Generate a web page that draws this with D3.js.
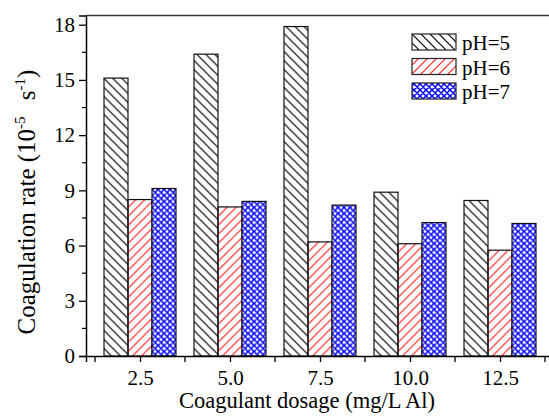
<!DOCTYPE html>
<html>
<head>
<meta charset="utf-8">
<script src="https://cdn.jsdelivr.net/npm/d3@7"></script>
<style>
  body { margin: 0; background: #fff; }
  svg text { font-family: "Liberation Serif", "Times New Roman", serif; }
</style>
</head>
<body>
<svg id="drawing_region"></svg>
<script>
// data
const dosages = [2.5, 5.0, 7.5, 10.0, 12.5];
const ph5 = [15.1, 16.4, 17.9, 8.9, 8.45];
const ph6 = [8.5, 8.1, 6.2, 6.1, 5.75];
const ph7 = [9.1, 8.4, 8.2, 7.25, 7.2];
const seriesNames = ['pH=5', 'pH=6', 'pH=7'];
const yTicks = [0, 3, 6, 9, 12, 15, 18];
const xTicks = [2.5, 5.0, 7.5, 10.0, 12.5];

const config = {
    width: 549,
    height: 417,
    margin: {top: 15.5, right: -5, bottom: 61, left: 86}
};

const svg = d3.select('#drawing_region')
    .attr('width', config.width)
    .attr('height', config.height);

const inner_width = config.width - config.margin.left - config.margin.right;
const inner_height = config.height - config.margin.top - config.margin.bottom;

// hatch patterns
const defs = svg.append('defs');
const p5 = defs.append('pattern').attr('id', 'hatch5')
    .attr('patternUnits', 'userSpaceOnUse').attr('width', 9).attr('height', 9);
p5.append('path').attr('d', 'M0,0 L9,9 M-1,8 L1,10 M8,-1 L10,1')
    .attr('stroke', '#000').attr('stroke-width', 1.2);
const p6 = defs.append('pattern').attr('id', 'hatch6')
    .attr('patternUnits', 'userSpaceOnUse').attr('width', 9).attr('height', 9);
p6.append('path').attr('d', 'M0,9 L9,0 M-1,1 L1,-1 M8,10 L10,8')
    .attr('stroke', '#ff2020').attr('stroke-width', 1.2);
const p7 = defs.append('pattern').attr('id', 'hatch7')
    .attr('patternUnits', 'userSpaceOnUse').attr('width', 6).attr('height', 6);
p7.append('rect').attr('width', 6).attr('height', 6).attr('fill', '#fff');
p7.append('path').attr('d', 'M0,0 L6,6 M-1,5 L1,7 M5,-1 L7,1 M0,6 L6,0 M-1,1 L1,-1 M5,7 L7,5')
    .attr('stroke', '#0000ff').attr('stroke-width', 1.5);
const fills = ['url(#hatch5)', 'url(#hatch6)', 'url(#hatch7)'];

const chart = svg.append('g')
    .attr('transform', `translate(${config.margin.left}, ${config.margin.top})`);

const xscale = d3.scaleLinear()
    .domain([1, 14])
    .range([0, inner_width]);

const yscale = d3.scaleLinear()
    .domain([0, 18.5])
    .range([inner_height, 0]);

// bars
const series = [ph5, ph6, ph7];
const barW = 2 / 3;
series.forEach((vals, i) => {
    chart.selectAll('.bar' + i)
        .data(dosages.map((d, j) => ({x: d, y: vals[j]})))
        .enter()
        .append('rect')
        .attr('x', d => xscale(d.x - 1 + i * barW))
        .attr('y', d => yscale(d.y))
        .attr('width', xscale(barW) - xscale(0))
        .attr('height', d => yscale(0) - yscale(d.y))
        .attr('fill', fills[i])
        .attr('stroke', '#111')
        .attr('stroke-width', 1.2);
});

// y axis
const yaxis = d3.axisLeft(yscale)
    .tickValues(yTicks)
    .tickSize(7)
    .tickPadding(4);
const yaxis_group = chart.append('g').call(yaxis)
    .attr('font-family', null).attr('font-size', null);
yaxis_group.selectAll('text').attr('font-size', '21px').attr('fill', '#000');
yaxis_group.select('.domain').attr('stroke-width', 1.5);
yaxis_group.selectAll('.tick line').attr('stroke-width', 1.3);

// minor y ticks
chart.append('g').selectAll('line')
    .data(yTicks.slice(0, -1).map(t => t + 1.5))
    .enter().append('line')
    .attr('x1', 0).attr('x2', -4)
    .attr('y1', d => yscale(d)).attr('y2', d => yscale(d))
    .attr('stroke', '#000').attr('stroke-width', 1.2);

// x axis
const xaxis = d3.axisBottom(xscale)
    .tickValues(xTicks)
    .tickFormat(d3.format('.1f'))
    .tickSize(6)
    .tickPadding(8);
const xaxis_group = chart.append('g')
    .attr('transform', `translate(0, ${inner_height})`)
    .call(xaxis)
    .attr('font-family', null).attr('font-size', null);
xaxis_group.selectAll('text').attr('font-size', '21px').attr('fill', '#000');
xaxis_group.select('.domain').attr('stroke-width', 1.5);
xaxis_group.selectAll('.tick line').attr('stroke-width', 1.3);

// ticks between groups
chart.append('g').selectAll('line')
    .data(xTicks.concat([15]).map(t => t - 1.25))
    .enter().append('line')
    .attr('x1', d => xscale(d)).attr('x2', d => xscale(d))
    .attr('y1', inner_height).attr('y2', inner_height + 6)
    .attr('stroke', '#000').attr('stroke-width', 1.3);

// top frame
chart.append('line')
    .attr('x1', 0).attr('x2', inner_width)
    .attr('y1', 0).attr('y2', 0)
    .attr('stroke', '#333').attr('stroke-width', 1.5);

// axis titles
svg.append('text')
    .attr('x', 307)
    .attr('y', 408)
    .attr('text-anchor', 'middle')
    .attr('font-size', '22.5px')
    .text('Coagulant dosage (mg/L Al)');

const ylab = svg.append('text')
    .attr('transform', 'translate(35, 202) rotate(-90)')
    .attr('text-anchor', 'middle')
    .attr('font-size', '25px');
ylab.append('tspan').text('Coagulation rate (10');
ylab.append('tspan').attr('font-size', '15px').attr('dy', -10).text('-5');
ylab.append('tspan').attr('dy', 10).text('\u2009\u2009 s');
ylab.append('tspan').attr('font-size', '15px').attr('dy', -10).text('-1');
ylab.append('tspan').attr('dy', 10).text(')');

// legend
const legend = svg.append('g');
seriesNames.forEach((name, i) => {
    const ly = 34 + i * 24.5;
    legend.append('rect')
        .attr('x', 412).attr('y', ly)
        .attr('width', 44).attr('height', 16)
        .attr('fill', fills[i])
        .attr('stroke', '#222').attr('stroke-width', 1.2);
    legend.append('text')
        .attr('x', 462).attr('y', ly + 16)
        .attr('font-size', '21px')
        .text(name);
});
</script>
</body>
</html>
